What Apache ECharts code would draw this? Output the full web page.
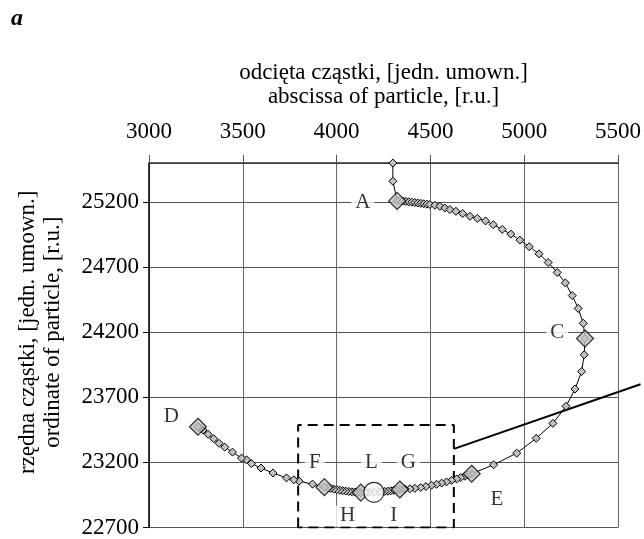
<!DOCTYPE html>
<html>
<head>
<meta charset="utf-8">
<script src="https://cdn.jsdelivr.net/npm/echarts/dist/echarts.min.js"></script>
<style>
  html, body { margin: 0; padding: 0; background: #fff; }
  #chart { width: 644px; height: 539px; }
</style>
</head>
<body>
<div id="chart"></div>
<script>
// x-axis ticks (top) and y-axis ticks
var xTicks = [3000, 3500, 4000, 4500, 5000, 5500]
var yTicks = [22700, 23200, 23700, 24200, 24700, 25200]

// particle trajectory [abscissa, ordinate]
var trajectory = [
  [4300, 25500], [4300, 25360], [4323, 25209],
  [4337, 25211], [4353, 25208], [4369, 25205], [4385, 25202], [4401, 25199],
  [4417, 25196], [4433, 25193], [4449, 25190], [4465, 25187], [4481, 25184],
  [4497, 25181], [4524, 25175], [4551, 25167], [4577, 25154], [4604, 25142],
  [4636, 25129], [4672, 25112], [4711, 25091], [4750, 25074], [4794, 25055],
  [4835, 25026], [4883, 24990], [4929, 24954], [4977, 24908], [5027, 24857],
  [5079, 24802], [5128, 24736], [5176, 24659], [5219, 24579], [5256, 24482],
  [5288, 24383], [5315, 24269], [5324, 24152],
  [5320, 24027], [5306, 23898], [5271, 23764], [5223, 23631], [5153, 23500],
  [5064, 23385], [4960, 23271], [4837, 23182], [4720, 23113],
  [4702, 23104], [4684, 23094], [4661, 23083], [4640, 23073], [4613, 23062],
  [4586, 23050], [4560, 23041], [4533, 23032], [4506, 23024], [4476, 23015],
  [4448, 23007], [4417, 23001], [4391, 22997], [4364, 22995], [4337, 22992],
  [4321, 22988], [4305, 22985], [4289, 22982], [4273, 22979], [4257, 22977],
  [4241, 22976], [4225, 22974], [4199, 22970],
  [4172, 22969], [4150, 22968], [4129, 22968], [4113, 22970], [4097, 22973],
  [4081, 22974], [4065, 22977], [4049, 22980], [4033, 22983], [4017, 22987],
  [4001, 22991], [3985, 22995], [3969, 23000], [3953, 23005], [3935, 23010],
  [3872, 23033], [3800, 23056], [3772, 23066], [3733, 23081], [3661, 23119],
  [3597, 23157], [3546, 23191], [3520, 23220], [3493, 23233], [3445, 23279],
  [3404, 23317], [3373, 23347], [3345, 23382], [3315, 23416], [3288, 23449],
  [3273, 23465], [3266, 23469], [3261, 23474]
]

// characteristic points drawn as large diamonds (A, C, E, I/G, H, F, D)
var keyPoints = [
  [4323, 25209], [5324, 24152], [4720, 23113], [4337, 22992],
  [4129, 22968], [3935, 23010], [3261, 23474]
]

// point L (white circle)
var circlePoint = [[4199, 22970]]

// letter labels [text, x, y]
var letters = [
  ['A', 4140, 25200], ['C', 5176, 24200], ['D', 3119, 23551], ['E', 4855, 22915],
  ['F', 3884, 23200], ['L', 4186, 23200], ['G', 4382, 23200],
  ['H', 4058, 22789], ['I', 4305, 22789]
]

// dashed frame around the bottom region and the callout line [x1, y1, x2, y2]
var frameBox = [[3795, 22700], [3795, 23487], [4625, 23487], [4625, 22700], [3795, 22700]]
var callout = [[4625, 23304, 5620, 23800]]

var serif = 'Liberation Serif'
var chart = echarts.init(document.getElementById('chart'))

chart.setOption({
  animation: false,
  backgroundColor: '#fff',
  title: {
    text: 'a',
    left: 6,
    top: 2,
    textStyle: {
      fontFamily: serif,
      fontStyle: 'italic',
      fontWeight: 'bold',
      fontSize: 24,
      color: '#000'
    }
  },
  grid: {
    left: 149,
    right: 26,
    top: 163,
    bottom: 9
  },
  xAxis: {
    type: 'value',
    position: 'top',
    min: xTicks[0],
    max: xTicks[xTicks.length - 1],
    interval: 500,
    name: 'odcięta cząstki, [jedn. umown.]\nabscissa of particle, [r.u.]',
    nameLocation: 'middle',
    nameGap: 54,
    nameTextStyle: {
      fontFamily: serif,
      fontSize: 23,
      lineHeight: 24,
      color: '#000'
    },
    axisLine: { lineStyle: { color: '#333', width: 1.5 } },
    axisTick: { show: true, inside: false, length: 8, lineStyle: { color: '#555' } },
    axisLabel: {
      fontFamily: serif,
      fontSize: 23,
      color: '#000',
      margin: 20,
      formatter: function (v) { return String(v) }
    },
    splitLine: { show: true, lineStyle: { color: '#666', width: 1 } }
  },
  yAxis: {
    type: 'value',
    min: yTicks[0],
    max: 25500,
    interval: 500,
    name: 'rzędna cząstki, [jedn. umown.]\nordinate of particle, [r.u.]',
    nameLocation: 'middle',
    nameGap: 84,
    nameTextStyle: {
      fontFamily: serif,
      fontSize: 23,
      lineHeight: 25,
      color: '#000',
      padding: [0, 0, 0, 26]
    },
    axisLine: { show: true, lineStyle: { color: '#000', width: 1.5 } },
    axisTick: { show: true, inside: false, length: 6, lineStyle: { color: '#000' } },
    axisLabel: {
      fontFamily: serif,
      fontSize: 23,
      color: '#000',
      margin: 10,
      showMaxLabel: false,
      formatter: function (v) { return String(v) }
    },
    splitLine: { show: true, lineStyle: { color: '#555', width: 1 } }
  },
  series: [
    {
      name: 'frame',
      type: 'line',
      data: frameBox,
      symbol: 'none',
      silent: true,
      lineStyle: { color: '#000', width: 2, type: [10, 6] },
      z: 3
    },
    {
      name: 'callout',
      type: 'custom',
      data: callout,
      silent: true,
      clip: false,
      encode: { x: [0, 2], y: [1, 3] },
      renderItem: function (params, api) {
        var p1 = api.coord([api.value(0), api.value(1)])
        var p2 = api.coord([api.value(2), api.value(3)])
        return {
          type: 'line',
          shape: { x1: p1[0], y1: p1[1], x2: p2[0], y2: p2[1] },
          style: { stroke: '#000', lineWidth: 2 }
        }
      },
      z: 3
    },
    {
      name: 'trajectory',
      type: 'line',
      data: trajectory,
      symbol: 'diamond',
      symbolSize: 8,
      showAllSymbol: true,
      lineStyle: { color: '#000', width: 1 },
      itemStyle: { color: '#c0c0c0', borderColor: '#000', borderWidth: 1 },
      z: 4
    },
    {
      name: 'key points',
      type: 'scatter',
      data: keyPoints,
      symbol: 'diamond',
      symbolSize: 17,
      itemStyle: { color: '#c0c0c0', borderColor: '#000', borderWidth: 1.2 },
      z: 5
    },
    {
      name: 'L',
      type: 'scatter',
      data: circlePoint,
      symbol: 'circle',
      symbolSize: 20,
      itemStyle: { color: '#fff', borderColor: '#000', borderWidth: 1.2 },
      z: 6
    },
    {
      name: 'letters',
      type: 'scatter',
      data: letters.map(function (d) { return { name: d[0], value: [d[1], d[2]] } }),
      symbolSize: 0,
      silent: true,
      label: {
        show: true,
        position: 'inside',
        formatter: '{b}',
        fontFamily: serif,
        fontSize: 21,
        color: '#000',
        backgroundColor: '#fff',
        padding: [0, 4]
      },
      z: 7
    }
  ]
})
</script>
</body>
</html>
